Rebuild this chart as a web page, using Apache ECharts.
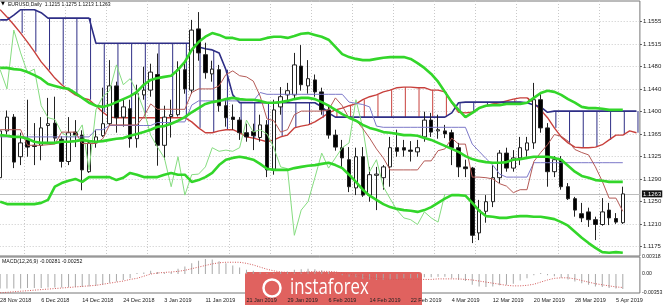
<!DOCTYPE html>
<html>
<head>
<meta charset="utf-8">
<script src="https://cdn.jsdelivr.net/npm/echarts@6/dist/echarts.min.js"></script>
<style>
  html, body { margin: 0; padding: 0; background: #fff; }
  #chart { width: 665px; height: 305px; }
</style>
</head>
<body>
<div id="chart"></div>
<script>
// --- data ---
const dates = ['28 Nov 2018','29 Nov 2018','30 Nov 2018','3 Dec 2018','4 Dec 2018','5 Dec 2018','6 Dec 2018','7 Dec 2018','10 Dec 2018','11 Dec 2018',
  '12 Dec 2018','13 Dec 2018','14 Dec 2018','17 Dec 2018','18 Dec 2018','19 Dec 2018','20 Dec 2018','21 Dec 2018','24 Dec 2018','26 Dec 2018',
  '27 Dec 2018','28 Dec 2018','31 Dec 2018','2 Jan 2019','3 Jan 2019','4 Jan 2019','7 Jan 2019','8 Jan 2019','9 Jan 2019','10 Jan 2019',
  '11 Jan 2019','14 Jan 2019','15 Jan 2019','16 Jan 2019','17 Jan 2019','18 Jan 2019','21 Jan 2019','22 Jan 2019','23 Jan 2019','24 Jan 2019',
  '25 Jan 2019','28 Jan 2019','29 Jan 2019','30 Jan 2019','31 Jan 2019','1 Feb 2019','4 Feb 2019','5 Feb 2019','6 Feb 2019','7 Feb 2019',
  '8 Feb 2019','11 Feb 2019','12 Feb 2019','13 Feb 2019','14 Feb 2019','15 Feb 2019','18 Feb 2019','19 Feb 2019','20 Feb 2019','21 Feb 2019',
  '22 Feb 2019','25 Feb 2019','26 Feb 2019','27 Feb 2019','28 Feb 2019','1 Mar 2019','4 Mar 2019','5 Mar 2019','6 Mar 2019','7 Mar 2019',
  '8 Mar 2019','11 Mar 2019','12 Mar 2019','13 Mar 2019','14 Mar 2019','15 Mar 2019','18 Mar 2019','19 Mar 2019','20 Mar 2019','21 Mar 2019',
  '22 Mar 2019','25 Mar 2019','26 Mar 2019','27 Mar 2019','28 Mar 2019','29 Mar 2019','1 Apr 2019','2 Apr 2019','3 Apr 2019','4 Apr 2019',
  '5 Apr 2019','8 Apr 2019'];
const futureSlots = ['', ''];

const opens = [1.1290,1.1368,1.1391,1.1325,1.1353,1.1344,1.1344,1.1377,1.1381,1.1354,
  1.1317,1.1366,1.1361,1.1300,1.1348,1.1360,1.1380,1.1443,1.1391,1.1405,
  1.1355,1.1428,1.1436,1.1462,1.1344,1.1392,1.1395,1.1470,1.1436,1.1538,
  1.1495,1.1463,1.1470,1.1410,1.1391,1.1386,1.1365,1.1367,1.1357,1.1378,
  1.1304,1.1408,1.1428,1.1428,1.1476,1.1443,1.1453,1.1433,1.1403,1.1361,
  1.1340,1.1320,1.1273,1.1325,1.1261,1.1294,1.1290,1.1308,1.1340,1.1340,
  1.1336,1.1333,1.1358,1.1386,1.1368,1.1368,1.1365,1.1340,1.1308,1.1306,
  1.1198,1.1234,1.1250,1.1290,1.1331,1.1306,1.1323,1.1336,1.1348,1.1420,
  1.1373,1.1300,1.1320,1.1275,1.1255,1.1230,1.1233,1.1220,1.1212,1.1236,
  1.1222,1.1215];
const highs = [1.1389,1.1402,1.1396,1.1365,1.1420,1.1381,1.1391,1.1423,1.1425,1.1359,
  1.1391,1.1386,1.1369,1.1353,1.1370,1.1440,1.1486,1.1450,1.1420,1.1420,
  1.1445,1.1475,1.1480,1.1497,1.1410,1.1420,1.1484,1.1485,1.1553,1.1566,
  1.1515,1.1485,1.1478,1.1422,1.1412,1.1391,1.1380,1.1380,1.1395,1.1386,
  1.1420,1.1441,1.1448,1.1498,1.1511,1.1486,1.1462,1.1440,1.1410,1.1370,
  1.1353,1.1341,1.1340,1.1341,1.1308,1.1308,1.1311,1.1358,1.1370,1.1353,
  1.1351,1.1353,1.1400,1.1398,1.1395,1.1378,1.1370,1.1348,1.1320,1.1308,
  1.1253,1.1261,1.1311,1.1336,1.1340,1.1336,1.1358,1.1358,1.1448,1.1430,
  1.1381,1.1326,1.1326,1.1281,1.1258,1.1248,1.1240,1.1225,1.1256,1.1248,
  1.1231,1.1275];
const lows = [1.1267,1.1362,1.1306,1.1311,1.1325,1.1311,1.1319,1.1348,1.1350,1.1307,
  1.1311,1.1341,1.1269,1.1298,1.1340,1.1358,1.1376,1.1365,1.1375,1.1340,
  1.1340,1.1420,1.1425,1.1310,1.1320,1.1357,1.1392,1.1430,1.1430,1.1485,
  1.1455,1.1450,1.1400,1.1375,1.1370,1.1353,1.1350,1.1336,1.1350,1.1291,
  1.1295,1.1395,1.1415,1.1420,1.1435,1.1430,1.1425,1.1395,1.1355,1.1335,
  1.1308,1.1266,1.1261,1.1258,1.1250,1.1236,1.1270,1.1275,1.1325,1.1325,
  1.1317,1.1325,1.1350,1.1358,1.1355,1.1356,1.1311,1.1291,1.1291,1.1181,
  1.1186,1.1215,1.1241,1.1281,1.1300,1.1300,1.1311,1.1325,1.1338,1.1365,
  1.1275,1.1291,1.1270,1.1253,1.1225,1.1216,1.1208,1.1186,1.1210,1.1211,
  1.1213,1.1213];
const closes = [1.1368,1.1391,1.1316,1.1348,1.1341,1.1342,1.1373,1.1380,1.1356,1.1317,
  1.1365,1.1361,1.1303,1.1348,1.1358,1.1380,1.1443,1.1390,1.1408,1.1355,
  1.1430,1.1436,1.1466,1.1344,1.1391,1.1395,1.1470,1.1438,1.1536,1.1498,
  1.1465,1.1471,1.1410,1.1390,1.1387,1.1365,1.1358,1.1360,1.1378,1.1303,
  1.1403,1.1425,1.1435,1.1478,1.1445,1.1455,1.1433,1.1403,1.1361,1.1341,
  1.1323,1.1275,1.1325,1.1261,1.1295,1.1296,1.1308,1.1340,1.1334,1.1336,
  1.1334,1.1340,1.1386,1.1366,1.1370,1.1363,1.1340,1.1308,1.1305,1.1194,
  1.1236,1.1250,1.1290,1.1331,1.1306,1.1323,1.1340,1.1348,1.1420,1.1373,
  1.1300,1.1320,1.1275,1.1255,1.1236,1.1223,1.1220,1.1212,1.1233,1.1223,
  1.1216,1.1263];

// Bollinger bands (thick green)
const bbUpper = [1.1473,1.1473,1.1471,1.1470,1.1466,1.1461,1.1455,1.1446,1.1443,1.1440,
  1.1438,1.1431,1.1423,1.1415,1.1410,1.1408,1.1411,1.1416,1.1421,1.1426,
  1.1433,1.1445,1.1453,1.1456,1.1458,1.1460,1.1470,1.1483,1.1503,1.1516,
  1.1525,1.1531,1.1528,1.1523,1.1523,1.1520,1.1520,1.1520,1.1520,1.1523,
  1.1525,1.1525,1.1523,1.1526,1.1530,1.1531,1.1528,1.1525,1.1520,1.1508,
  1.1496,1.1491,1.1488,1.1486,1.1486,1.1488,1.1490,1.1491,1.1491,1.1491,
  1.1488,1.1481,1.1473,1.1463,1.1450,1.1433,1.1416,1.1403,1.1391,1.1398,
  1.1406,1.1410,1.1411,1.1411,1.1413,1.1413,1.1413,1.1415,1.1423,1.1431,
  1.1435,1.1433,1.1428,1.1421,1.1415,1.1408,1.1406,1.1406,1.1405,1.1403,
  1.1403,1.1403];
const bbMiddle = [1.1361,1.1360,1.1358,1.1358,1.1355,1.1350,1.1348,1.1348,1.1348,1.1350,
  1.1350,1.1351,1.1353,1.1351,1.1350,1.1351,1.1353,1.1355,1.1356,1.1360,
  1.1363,1.1366,1.1370,1.1375,1.1376,1.1380,1.1385,1.1391,1.1399,1.1406,
  1.1413,1.1416,1.1418,1.1421,1.1423,1.1421,1.1420,1.1420,1.1418,1.1415,
  1.1415,1.1416,1.1418,1.1421,1.1423,1.1423,1.1421,1.1416,1.1410,1.1403,
  1.1396,1.1390,1.1385,1.1378,1.1373,1.1370,1.1366,1.1365,1.1363,1.1361,
  1.1361,1.1360,1.1356,1.1353,1.1348,1.1343,1.1338,1.1333,1.1326,1.1321,
  1.1318,1.1316,1.1315,1.1315,1.1316,1.1320,1.1321,1.1323,1.1325,1.1325,
  1.1325,1.1323,1.1320,1.1310,1.1300,1.1293,1.1290,1.1286,1.1285,1.1283,
  1.1283,1.1283];
const bbLower = [1.1250,1.1246,1.1246,1.1246,1.1246,1.1246,1.1248,1.1253,1.1275,1.1281,
  1.1285,1.1288,1.1283,1.1291,1.1291,1.1291,1.1291,1.1286,1.1290,1.1298,
  1.1295,1.1291,1.1291,1.1291,1.1295,1.1298,1.1295,1.1295,1.1283,1.1286,
  1.1291,1.1298,1.1311,1.1320,1.1323,1.1325,1.1323,1.1320,1.1313,1.1305,
  1.1303,1.1303,1.1303,1.1306,1.1308,1.1310,1.1311,1.1313,1.1315,1.1311,
  1.1306,1.1295,1.1283,1.1270,1.1260,1.1253,1.1246,1.1241,1.1238,1.1236,
  1.1235,1.1233,1.1236,1.1241,1.1248,1.1255,1.1261,1.1261,1.1260,1.1248,
  1.1235,1.1226,1.1225,1.1223,1.1223,1.1225,1.1226,1.1226,1.1225,1.1225,
  1.1223,1.1221,1.1216,1.1210,1.1200,1.1190,1.1181,1.1173,1.1166,1.1165,
  1.1166,1.1165];

// Ichimoku
const tenkan = [1.1370,1.1370,1.1370,1.1370,1.1344,1.1344,1.1344,1.1345,1.1346,1.1366,
  1.1366,1.1366,1.1347,1.1347,1.1347,1.1355,1.1378,1.1378,1.1378,1.1378,
  1.1378,1.1392,1.1413,1.1404,1.1404,1.1404,1.1404,1.1404,1.1432,1.1438,
  1.1438,1.1438,1.1443,1.1462,1.1468,1.1460,1.1458,1.1451,1.1426,1.1388,
  1.1385,1.1366,1.1370,1.1395,1.1401,1.1401,1.1401,1.1401,1.1403,1.1423,
  1.1410,1.1389,1.1386,1.1372,1.1356,1.1338,1.1323,1.1303,1.1303,1.1303,
  1.1303,1.1303,1.1318,1.1318,1.1335,1.1338,1.1356,1.1346,1.1346,1.1291,
  1.1291,1.1290,1.1288,1.1280,1.1276,1.1265,1.1270,1.1270,1.1317,1.1332,
  1.1345,1.1362,1.1359,1.1351,1.1337,1.1332,1.1328,1.1308,1.1284,1.1256,
  1.1256,1.1234];
const kijun = [1.1358,1.1358,1.1358,1.1358,1.1358,1.1358,1.1358,1.1358,1.1358,1.1358,
  1.1358,1.1358,1.1358,1.1358,1.1370,1.1370,1.1377,1.1377,1.1377,1.1377,
  1.1377,1.1377,1.1377,1.1382,1.1382,1.1382,1.1383,1.1383,1.1411,1.1418,
  1.1418,1.1418,1.1418,1.1418,1.1418,1.1418,1.1418,1.1418,1.1432,1.1429,
  1.1429,1.1429,1.1429,1.1429,1.1429,1.1429,1.1429,1.1429,1.1429,1.1429,
  1.1429,1.1416,1.1414,1.1412,1.1408,1.1376,1.1374,1.1374,1.1374,1.1374,
  1.1374,1.1374,1.1374,1.1374,1.1374,1.1374,1.1374,1.1374,1.1374,1.1346,
  1.1334,1.1322,1.1311,1.1296,1.1291,1.1291,1.1291,1.1291,1.1315,1.1315,
  1.1315,1.1315,1.1315,1.1315,1.1315,1.1315,1.1315,1.1315,1.1315,1.1315,
  1.1315,1.1315];
const chikou = [1.1470,1.1438,1.1536,1.1498,1.1465,1.1471,1.1410,1.1390,1.1387,1.1365,
  1.1358,1.1360,1.1378,1.1303,1.1403,1.1425,1.1435,1.1478,1.1445,1.1455,
  1.1433,1.1403,1.1361,1.1341,1.1323,1.1275,1.1325,1.1261,1.1295,1.1296,
  1.1308,1.1340,1.1334,1.1336,1.1334,1.1340,1.1386,1.1366,1.1370,1.1363,
  1.1340,1.1308,1.1305,1.1194,1.1236,1.1250,1.1290,1.1331,1.1306,1.1323,
  1.1340,1.1348,1.1420,1.1373,1.1300,1.1320,1.1275,1.1255,1.1236,1.1223,
  1.1220,1.1212,1.1233,1.1223,1.1216,1.1263];
const spanA = [1.1570,1.1558,1.1545,1.1531,1.1516,1.1500,1.1483,1.1470,1.1456,1.1445,
  1.1436,1.1428,1.1423,1.1420,1.1410,1.1399,1.1391,1.1390,1.1390,1.1390,
  1.1390,1.1390,1.1390,1.1390,1.1390,1.1390,1.1390,1.1390,1.1383,1.1373,
  1.1365,1.1365,1.1368,1.1370,1.1370,1.1365,1.1358,1.1356,1.1353,1.1350,
  1.1353,1.1358,1.1361,1.1373,1.1376,1.1378,1.1383,1.1390,1.1398,1.1403,
  1.1406,1.1410,1.1413,1.1420,1.1425,1.1428,1.1433,1.1436,1.1440,1.1441,
  1.1441,1.1440,1.1440,1.1436,1.1436,1.1433,1.1415,1.1399,1.1398,1.1399,
  1.1406,1.1410,1.1413,1.1415,1.1418,1.1421,1.1423,1.1423,1.1415,1.1403,
  1.1390,1.1373,1.1358,1.1348,1.1341,1.1340,1.1340,1.1341,1.1345,1.1353,
  1.1361,1.1361,1.1368,1.1365];
const spanB = [1.1553,1.1553,1.1561,1.1570,1.1570,1.1570,1.1565,1.1556,1.1556,1.1556,
  1.1556,1.1556,1.1556,1.1556,1.1514,1.1514,1.1514,1.1514,1.1514,1.1514,
  1.1514,1.1514,1.1514,1.1514,1.1514,1.1514,1.1514,1.1514,1.1514,1.1508,
  1.1505,1.1503,1.1498,1.1470,1.1428,1.1415,1.1415,1.1415,1.1415,1.1415,
  1.1415,1.1415,1.1415,1.1415,1.1415,1.1415,1.1415,1.1408,1.1398,1.1391,
  1.1391,1.1391,1.1391,1.1391,1.1391,1.1391,1.1391,1.1391,1.1391,1.1391,
  1.1391,1.1391,1.1391,1.1391,1.1391,1.1391,1.1398,1.1415,1.1416,1.1416,
  1.1416,1.1416,1.1416,1.1416,1.1416,1.1416,1.1416,1.1415,1.1411,1.1408,
  1.1399,1.1401,1.1401,1.1401,1.1401,1.1401,1.1401,1.1401,1.1401,1.1401,
  1.1401,1.1401,1.1401,1.1401];

// MACD(12,26,9)
const macdMain = [-0.0027,-0.0027,-0.0027,-0.0027,-0.0026,-0.0026,-0.0026,-0.0025,-0.0025,-0.0025,
  -0.0024,-0.0024,-0.0024,-0.0023,-0.0022,-0.0020,-0.0016,-0.0014,-0.0011,-0.0008,
  0.0002,0.0003,0.0006,0.0004,0.0003,0.0004,0.0010,0.0014,0.0020,0.0025,
  0.0028,0.0027,0.0024,0.0020,0.0016,0.0012,0.0008,0.0006,0.0004,0.0002,
  0.0002,0.0004,0.0005,0.0008,0.0009,0.0010,0.0009,0.0007,0.0004,0.0001,
  -0.0002,-0.0005,-0.0006,-0.0009,-0.0010,-0.0011,-0.0011,-0.0010,-0.0009,-0.0008,
  -0.0008,-0.0007,-0.0006,-0.0006,-0.0005,-0.0005,-0.0008,-0.0011,-0.0013,-0.0020,
  -0.0023,-0.0024,-0.0023,-0.0021,-0.0020,-0.0018,-0.0012,-0.0008,-0.0002,0.0002,
  -0.0002,-0.0004,-0.0007,-0.0010,-0.0014,-0.0017,-0.0020,-0.0023,-0.0024,-0.0026,
  -0.0027,-0.0028];
const macdSignal = [-0.0035,-0.0034,-0.0033,-0.0032,-0.0031,-0.0030,-0.0029,-0.0028,-0.0027,-0.0026,
  -0.0025,-0.0024,-0.0023,-0.0022,-0.0021,-0.0019,-0.0017,-0.0015,-0.0013,-0.0010,
  -0.0008,-0.0004,0.0000,0.0002,0.0003,0.0004,0.0005,0.0007,0.0010,0.0013,
  0.0016,0.0019,0.0021,0.0022,0.0022,0.0022,0.0020,0.0017,0.0013,0.0009,
  0.0006,0.0004,0.0003,0.0003,0.0003,0.0004,0.0005,0.0005,0.0005,0.0004,
  0.0002,0.0000,-0.0002,-0.0004,-0.0006,-0.0008,-0.0009,-0.0010,-0.0010,-0.0010,
  -0.0010,-0.0010,-0.0010,-0.0010,-0.0009,-0.0009,-0.0009,-0.0009,-0.0010,-0.0011,
  -0.0013,-0.0015,-0.0017,-0.0019,-0.0021,-0.0022,-0.0022,-0.0021,-0.0019,-0.0015,
  -0.0011,-0.0008,-0.0007,-0.0007,-0.0009,-0.0012,-0.0015,-0.0018,-0.0020,-0.0022,
  -0.0024,-0.0025];

const priceTicks = ['1.1175','1.1210','1.1250','1.1290','1.1325','1.1365','1.1400','1.1440','1.1480','1.1515','1.1555'];
const lastPrice = 1.1263;
const headerText = 'EURUSD,Daily  1.1215 1.1275 1.1213 1.1263';
const macdText = 'MACD(12,26,9) -0.00281 -0.00252';

// --- chart ---
const categories = dates.concat(futureSlots);
const candles = opens.map((o, i) => [o, closes[i], lows[i], highs[i]]);
const cloudHatch = [];
spanA.forEach((a, i) => { if (i % 2 === 1) cloudHatch.push([i, a, spanB[i]]); });

const lbl = { fontSize: 6, fontFamily: 'Liberation Sans', color: '#222' };
const dotted = { color: '#c9c9c9', type: [1, 2], width: 1 };
const gridLeft = -3.3, gridWidth = 643.2;

const chart = echarts.init(document.getElementById('chart'), null, { renderer: 'canvas' });

chart.setOption({
  animation: false,
  backgroundColor: '#fff',
  grid: [
    // price panel
    { left: gridLeft, width: gridWidth, top: 1, height: 255, show: true, borderColor: '#777', borderWidth: 1, outerBoundsMode: 'none' },
    // MACD panel
    { left: gridLeft, width: gridWidth, top: 257, height: 36, show: true, borderColor: '#777', borderWidth: 1, outerBoundsMode: 'none' },
    // price scale: spans from the 1.1175 line to the 1.1555 line
    { left: gridLeft, width: gridWidth, top: 21.7, height: 225, show: false, outerBoundsMode: 'none' }
  ],
  xAxis: [
    {
      type: 'category', gridIndex: 0, data: categories, boundaryGap: true,
      axisLine: { show: false }, axisTick: { show: false }, axisLabel: { show: false },
      splitLine: { show: true, interval: (i) => i % 6 === 4, lineStyle: dotted }
    },
    {
      type: 'category', gridIndex: 1, data: categories, boundaryGap: true,
      axisLine: { show: false }, axisTick: { show: false },
      axisLabel: Object.assign({}, lbl, { fontSize: 5.5, interval: (i) => i % 6 === 0 && i <= 90, align: 'left', margin: 4 }),
      splitLine: { show: false }
    },
    { type: 'category', gridIndex: 2, data: categories, show: false }
  ],
  yAxis: [
    {
      type: 'value', gridIndex: 0, position: 'right', min: 1.11595, max: 1.15845,
      axisLine: { show: false }, axisTick: { show: false }, axisLabel: { show: false }, splitLine: { show: false }
    },
    {
      type: 'value', gridIndex: 1, position: 'right',
      min: -0.00353, max: 0.00318, interval: 0.00353,
      axisLine: { show: false }, axisTick: { show: false },
      axisLabel: Object.assign({}, lbl, {
        fontSize: 5.2, margin: 2, showMinLabel: true, showMaxLabel: true,
        formatter: (v) => Math.abs(v) < 1e-9 ? '0.00' : v.toFixed(5)
      }),
      splitLine: { show: false }
    },
    {
      type: 'category', gridIndex: 2, data: priceTicks, boundaryGap: false, position: 'right',
      axisLine: { show: false },
      axisTick: { show: true, length: 2, interval: 0, lineStyle: { color: '#555' } },
      axisLabel: Object.assign({ margin: 3, interval: 0 }, lbl),
      splitLine: { show: true, interval: 0, lineStyle: dotted }
    }
  ],
  series: [
    {
      name: 'cloud', type: 'custom', xAxisIndex: 0, yAxisIndex: 0, z: 1,
      data: cloudHatch, encode: { x: 0, y: [1, 2] },
      renderItem: (params, api) => {
        const a = api.value(1), b = api.value(2);
        const p1 = api.coord([api.value(0), a]);
        const p2 = api.coord([api.value(0), b]);
        return {
          type: 'line',
          shape: { x1: p1[0] + 1.5, y1: p1[1], x2: p1[0] + 1.5, y2: p2[1] },
          style: { stroke: a > b ? '#c8403c' : '#2e2e86', lineWidth: 1 }
        };
      }
    },
    { name: 'Senkou A', type: 'line', data: spanA, symbol: 'none', z: 2, lineStyle: { color: '#c8403c', width: 1.4 } },
    { name: 'Senkou B', type: 'line', data: spanB, symbol: 'none', z: 2, lineStyle: { color: '#2e2e86', width: 1.6 } },
    {
      name: 'EURUSD', type: 'candlestick', data: candles, barWidth: 4, z: 3,
      itemStyle: { color: '#fff', color0: '#000', borderColor: '#222', borderColor0: '#222', borderWidth: 1 },
      markLine: {
        silent: true, symbol: ['none', 'none'], precision: 4, z: 1,
        lineStyle: { color: '#bdbdbd', type: 'solid', width: 1 },
        label: { show: true, position: 'end', distance: 2, formatter: lastPrice.toFixed(4), color: '#fff',
          backgroundColor: '#111', padding: [1, 1, 0, 1], fontSize: 6, fontFamily: 'Liberation Sans' },
        data: [{ yAxis: lastPrice }]
      }
    },
    { name: 'Chikou', type: 'line', data: chikou, symbol: 'none', z: 4, lineStyle: { color: '#86dc80', width: 1 } },
    { name: 'Kijun', type: 'line', data: kijun, symbol: 'none', z: 4, lineStyle: { color: '#7c78c8', width: 1 } },
    { name: 'Tenkan', type: 'line', data: tenkan, symbol: 'none', z: 4, lineStyle: { color: '#b45a56', width: 1 } },
    { name: 'BB upper', type: 'line', data: bbUpper, symbol: 'none', z: 5, lineStyle: { color: '#33d62a', width: 2.6 } },
    { name: 'BB middle', type: 'line', data: bbMiddle, symbol: 'none', z: 5, lineStyle: { color: '#33d62a', width: 2.6 } },
    { name: 'BB lower', type: 'line', data: bbLower, symbol: 'none', z: 5, lineStyle: { color: '#33d62a', width: 2.6 } },
    { name: 'MACD', type: 'bar', xAxisIndex: 1, yAxisIndex: 1, data: macdMain, barWidth: 1, itemStyle: { color: '#a8a8a8' } },
    { name: 'Signal', type: 'line', xAxisIndex: 1, yAxisIndex: 1, data: macdSignal, symbol: 'none',
      lineStyle: { color: '#d25a5a', width: 1, type: [1, 1.5] } }
  ],
  graphic: {
    elements: [
      { type: 'text', x: 1, y: 1, z: 20, style: { text: '\u25BC', fontSize: 5, fill: '#000', fontFamily: 'DejaVu Sans' } },
      { type: 'text', x: 8, y: 1, scaleX: 0.84, z: 20, style: { text: headerText, fontSize: 6, fill: '#111', fontFamily: 'Liberation Sans' } },
      { type: 'text', x: 2, y: 258, scaleX: 0.87, z: 20, style: { text: macdText, fontSize: 6, fill: '#111', fontFamily: 'Liberation Sans' } },
      {
        type: 'group', x: 245, y: 272, z: 30,
        children: [
          { type: 'rect', shape: { x: 0, y: 0, width: 177, height: 34, r: [3, 3, 0, 0] }, style: { fill: '#e0625f' } },
          { type: 'circle', shape: { cx: 27, cy: 16, r: 8.5 }, style: { fill: 'none', stroke: '#fff', lineWidth: 2.5 } },
          { type: 'text', x: 45, y: 16, scaleX: 0.8,
            style: { text: 'instaforex', fill: '#fff', fontSize: 21, fontFamily: 'Open Sans', verticalAlign: 'middle', align: 'left' } }
        ]
      }
    ]
  }
});
</script>
</body>
</html>
